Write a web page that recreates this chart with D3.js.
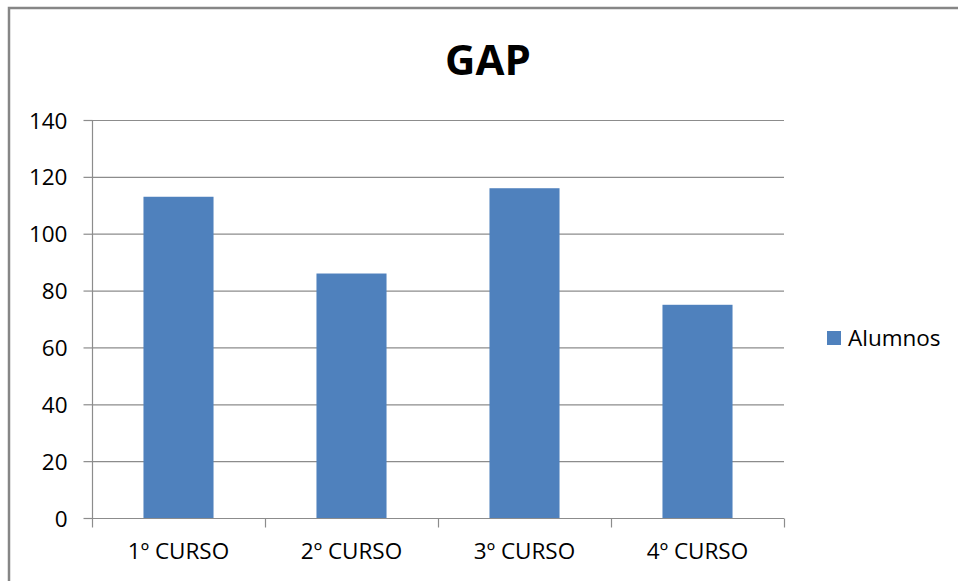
<!DOCTYPE html>
<html>
<head>
<meta charset="utf-8">
<script src="https://cdn.jsdelivr.net/npm/d3@7"></script>
<style>
  html, body { margin: 0; padding: 0; background: #fff; }
  svg { display: block; }
  text { font-family: "Open Sans", "Liberation Sans", sans-serif; fill: #000; }
</style>
</head>
<body>
<svg id="chart" width="958" height="581"></svg>
<script>
const categories = ["1º CURSO", "2º CURSO", "3º CURSO", "4º CURSO"];
const alumnos = [113, 86, 116, 75];
const yTicks = [0, 20, 40, 60, 80, 100, 120, 140];
const seriesName = "Alumnos";
const title = "GAP";

(function () {
const svg = d3.select("#chart");
const W = 958, H = 581;
const pLeft = 92, pRight = 784, pTop = 120, pBottom = 518;
const fs = "22.5px";

// outer frame (only top & left visible)
svg.append("rect")
  .attr("x", 9).attr("y", 8)
  .attr("width", W + 20).attr("height", H + 20)
  .attr("fill", "#fff")
  .attr("stroke", "#868686").attr("stroke-width", 2.5);

const x = d3.scaleBand().domain(categories).range([pLeft, pRight])
  .paddingInner(0.595).paddingOuter(0.2975);
const y = d3.scaleLinear().domain([0, 140]).range([pBottom, pTop]);

// gridlines
svg.append("g").selectAll("line").data(yTicks.filter(d => d > 0)).join("line")
  .attr("x1", pLeft).attr("x2", pRight)
  .attr("y1", d => y(d) + 0.5).attr("y2", d => y(d) + 0.5)
  .attr("stroke", "#8c8c8c").attr("stroke-width", 1.2);

// bars
svg.append("g").selectAll("rect").data(alumnos).join("rect")
  .attr("x", (d, i) => x(categories[i]))
  .attr("y", d => y(d))
  .attr("width", x.bandwidth())
  .attr("height", d => pBottom - y(d))
  .attr("fill", "#4F81BD");

// y axis
const yAxis = svg.append("g").attr("transform", `translate(${pLeft + 0.5},0)`)
  .call(d3.axisLeft(y).tickValues(yTicks).tickSize(9).tickPadding(16));
yAxis.select(".domain").attr("stroke", "#8c8c8c").attr("stroke-width", 1.2)
  .attr("d", `M0,${pTop}V${pBottom}`);
yAxis.selectAll(".tick line").attr("stroke", "#8c8c8c").attr("stroke-width", 1.2);
yAxis.selectAll(".tick text")
  .style("font-family", '"Open Sans", sans-serif')
  .style("font-size", fs).attr("fill", "#000").attr("dy", "0.36em");

// x axis
const xAxis = svg.append("g").attr("transform", `translate(0,${pBottom + 0.5})`)
  .call(d3.axisBottom(x).tickSize(0).tickPadding(25));
xAxis.select(".domain").attr("stroke", "#8c8c8c").attr("stroke-width", 1.2)
  .attr("d", `M${pLeft},0H${pRight}`);
xAxis.selectAll(".tick text")
  .style("font-family", '"Open Sans", sans-serif')
  .style("font-size", fs).attr("fill", "#000");
// category boundary ticks
const bounds = d3.range(categories.length + 1).map(i => pLeft + i * x.step());
xAxis.append("g").selectAll("line").data(bounds).join("line")
  .attr("x1", d => Math.round(d) + 0.5).attr("x2", d => Math.round(d) + 0.5)
  .attr("y1", 0).attr("y2", 9)
  .attr("stroke", "#8c8c8c").attr("stroke-width", 1.2);

// title
svg.append("text")
  .attr("x", 488).attr("y", 75)
  .attr("text-anchor", "middle")
  .style("font-family", '"Open Sans", sans-serif')
  .style("font-weight", "700").style("font-size", "42px")
  .text(title);

// legend
const lg = svg.append("g").attr("transform", "translate(827,331)");
lg.append("rect").attr("width", 14).attr("height", 14).attr("fill", "#4F81BD");
lg.append("text").attr("x", 21).attr("y", 15)
  .style("font-family", '"Open Sans", sans-serif')
  .style("font-size", fs)
  .text(seriesName);
})();
</script>
</body>
</html>
